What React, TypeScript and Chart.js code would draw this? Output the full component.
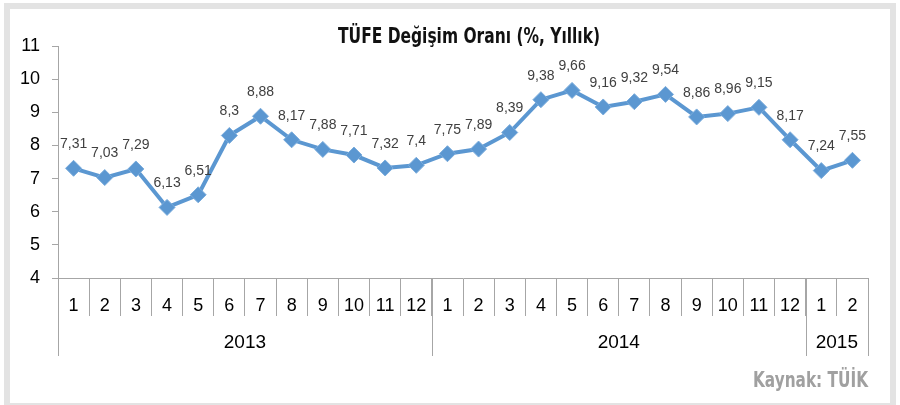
import React, { useEffect, useRef } from 'react';
import { Chart, registerables } from 'chart.js';

Chart.register(...registerables);

// ---- Data ----
const months: string[] = [
  '1', '2', '3', '4', '5', '6', '7', '8', '9', '10', '11', '12',
  '1', '2', '3', '4', '5', '6', '7', '8', '9', '10', '11', '12',
  '1', '2',
];
const values: number[] = [
  7.31, 7.03, 7.29, 6.13, 6.51, 8.3, 8.88, 8.17, 7.88, 7.71, 7.32, 7.4,
  7.75, 7.89, 8.39, 9.38, 9.66, 9.16, 9.32, 9.54, 8.86, 8.96, 9.15, 8.17,
  7.24, 7.55,
];
const years: string[] = ['2013', '2014', '2015'];
const yearCounts: number[] = [12, 12, 2];
const yMin = 4;
const yMax = 11;
const yStep = 1;
const titleText = 'TÜFE Değişim Oranı (%, Yıllık)';
const sourceText = 'Kaynak: TÜİK';

const LINE_COLOR = '#5B97D1';
const AXIS_COLOR = '#A6A6A6';
const SANS = '"Liberation Sans", Arial, sans-serif';
const NARROW = '"Liberation Sans Narrow", "DejaVu Sans Condensed", "Liberation Sans", sans-serif';

function fitText(ctx: CanvasRenderingContext2D, text: string, x: number, y: number, width: number, align: 'center' | 'right') {
  const w = ctx.measureText(text).width;
  const k = Math.min(1, width / w);
  ctx.save();
  ctx.translate(x, y);
  ctx.scale(k, 1);
  ctx.textAlign = align;
  ctx.fillText(text, 0, 0);
  ctx.restore();
}

const decoPlugin = {
  id: 'deco',
  beforeDraw(chart: any) {
    const ctx = chart.ctx;
    ctx.save();
    ctx.fillStyle = '#ffffff';
    ctx.fillRect(0, 0, chart.width, chart.height);
    ctx.strokeStyle = '#E3E3E3';
    ctx.lineWidth = 6;
    ctx.strokeRect(7, 6, 886, 400);
    ctx.restore();
  },
  afterDraw(chart: any) {
    const ctx = chart.ctx;
    const x = chart.scales.x;
    const area = chart.chartArea;
    ctx.save();
    ctx.textBaseline = 'alphabetic';
    // title
    ctx.font = `bold 22px ${NARROW}`;
    ctx.fillStyle = '#111111';
    fitText(ctx, titleText, 469, 43, 262, 'center');
    // source
    ctx.font = `bold 21px ${NARROW}`;
    ctx.fillStyle = '#A0A0A0';
    fitText(ctx, sourceText, 868, 387, 115, 'right');
    // year groups
    ctx.strokeStyle = AXIS_COLOR;
    ctx.lineWidth = 1;
    ctx.font = `19px ${SANS}`;
    ctx.fillStyle = '#000000';
    ctx.textAlign = 'center';
    ctx.textBaseline = 'middle';
    let start = 0;
    const bounds: number[] = [x.getPixelForValue(-0.5)];
    years.forEach((yr, i) => {
      const end = start + yearCounts[i];
      const l = x.getPixelForValue(start - 0.5);
      const r = x.getPixelForValue(end - 0.5);
      bounds.push(r);
      ctx.fillText(yr, (l + r) / 2, 343);
      start = end;
    });
    bounds.forEach((b) => {
      const px = Math.round(b) + 0.5;
      ctx.beginPath();
      ctx.moveTo(px, area.bottom);
      ctx.lineTo(px, 356);
      ctx.stroke();
    });
    // data labels
    const meta = chart.getDatasetMeta(0);
    ctx.font = `14px ${SANS}`;
    ctx.fillStyle = '#404040';
    ctx.textBaseline = 'middle';
    meta.data.forEach((pt: any, i: number) => {
      const label = String(values[i]).replace('.', ',');
      ctx.fillText(label, pt.x, pt.y - 24);
    });
    ctx.restore();
  },
};

export default function App() {
  const ref = useRef<HTMLCanvasElement | null>(null);
  useEffect(() => {
    if (!ref.current) return;
    const chart = new Chart(ref.current, {
      type: 'line',
      data: {
        labels: months,
        datasets: [
          {
            data: values,
            borderColor: LINE_COLOR,
            backgroundColor: LINE_COLOR,
            borderWidth: 4,
            pointStyle: 'rectRot',
            pointRadius: 8,
            pointBorderWidth: 1,
            pointBackgroundColor: LINE_COLOR,
            pointBorderColor: '#7AACDC',
            tension: 0,
          },
        ],
      },
      options: {
        responsive: false,
        animation: false,
        devicePixelRatio: 1,
        layout: { padding: { top: 46, right: 32, left: 0, bottom: 0 } },
        plugins: {
          legend: { display: false },
          tooltip: { enabled: false },
          title: { display: false },
        },
        scales: {
          x: {
            type: 'category',
            offset: true,
            afterFit: (s: any) => {
              s.height = 405 - 278;
            },
            grid: {
              offset: true,
              drawOnChartArea: false,
              drawTicks: true,
              tickLength: 38,
              color: AXIS_COLOR,
            },
            border: { display: true, color: AXIS_COLOR, width: 1 },
            ticks: {
              color: '#000000',
              font: { family: SANS, size: 18 },
              padding: -21,
              maxRotation: 0,
              autoSkip: false,
            },
          },
          y: {
            min: yMin,
            max: yMax,
            afterFit: (s: any) => {
              s.width = 58;
            },
            grid: {
              drawOnChartArea: false,
              drawTicks: true,
              tickLength: 6,
              color: AXIS_COLOR,
            },
            border: { display: true, color: AXIS_COLOR, width: 1 },
            ticks: {
              stepSize: yStep,
              color: '#000000',
              font: { family: SANS, size: 18 },
              padding: 12,
            },
          },
        },
      },
      plugins: [decoPlugin],
    });
    return () => chart.destroy();
  }, []);
  return (
    <div style={{ position: 'absolute', left: 0, top: 0, width: 900, height: 405 }}>
      <canvas ref={ref} width={900} height={405} />
    </div>
  );
}
